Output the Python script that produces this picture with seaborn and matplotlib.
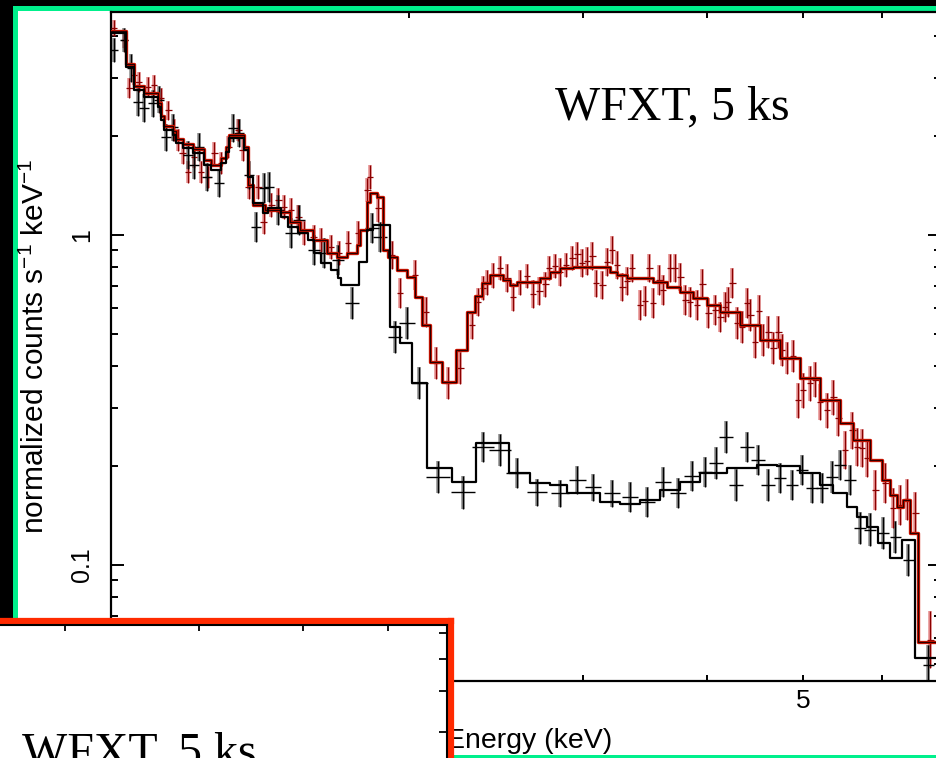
import numpy as np
import pandas as pd
import matplotlib
matplotlib.use("Agg")
import matplotlib.pyplot as plt
import seaborn as sns
from matplotlib.patches import Rectangle
from matplotlib.ticker import FixedLocator, FixedFormatter, NullFormatter

# ---------------- data (energy in keV, normalized counts s^-1 keV^-1) ----------------
# black model (step function: start energy of each step, value)
black_model_E = [1.000, 1.0355, 1.055, 1.080, 1.1155, 1.123, 1.131, 1.155, 1.163, 1.182,
                 1.210, 1.241, 1.262, 1.292, 1.307, 1.316, 1.362, 1.375, 1.391, 1.424,
                 1.441, 1.485, 1.509, 1.545, 1.581, 1.603, 1.630, 1.668, 1.695, 1.707,
                 1.780, 1.814, 1.839, 1.913, 1.958, 2.014, 2.085, 2.210, 2.337, 2.523,
                 2.650, 2.776, 2.888, 3.118, 3.267, 3.422, 3.585, 3.756, 3.934, 4.190,
                 4.492, 4.706, 4.965, 5.201, 5.360, 5.538, 5.668, 5.802, 5.952, 6.120,
                 6.293, 6.487]
black_model_F = [4.09, 3.23, 2.75, 2.62, 2.44, 2.23, 2.08, 2.01, 1.90, 1.835,
                 1.772, 1.63, 1.574, 1.653, 1.784, 1.967, 1.81, 1.499, 1.25, 1.166,
                 1.207, 1.134, 1.057, 1.014, 0.966, 0.882, 0.823, 0.783, 0.741, 0.706,
                 0.828, 1.035, 1.072, 0.526, 0.471, 0.356, 0.197, 0.178, 0.234, 0.190,
                 0.177, 0.175, 0.165, 0.155, 0.153, 0.157, 0.169, 0.178, 0.190, 0.197,
                 0.201, 0.199, 0.190, 0.175, 0.165, 0.150, 0.140, 0.130, 0.1166, 0.105,
                 0.119, 0.0523]

# red model
red_model_E = [1.000, 1.0355, 1.055, 1.080, 1.1155, 1.123, 1.131, 1.155, 1.163, 1.182,
               1.210, 1.241, 1.262, 1.292, 1.307, 1.316, 1.362, 1.375, 1.391, 1.431,
               1.481, 1.516, 1.552, 1.600, 1.653, 1.692, 1.731, 1.772, 1.784, 1.814,
               1.826, 1.856, 1.882, 1.905, 1.945, 1.991, 2.028, 2.061, 2.100, 2.159,
               2.231, 2.288, 2.331, 2.370, 2.414, 2.488, 2.529, 2.571, 2.712, 2.776,
               2.841, 2.928, 3.191, 3.244, 3.320, 3.527, 3.644, 3.756, 3.871, 4.000,
               4.122, 4.318, 4.524, 4.739, 4.965, 5.201, 5.449, 5.616, 5.842, 6.008,
               6.120, 6.221, 6.308, 6.411, 6.532]
red_model_F = [4.15, 3.30, 2.83, 2.69, 2.51, 2.29, 2.14, 2.07, 1.954, 1.887,
               1.822, 1.688, 1.63, 1.711, 1.848, 2.01, 1.848, 1.417, 1.233, 1.19,
               1.174, 1.095, 1.035, 0.966, 0.882, 0.858, 0.882, 0.933, 1.035, 1.259,
               1.341, 1.304, 0.901, 0.858, 0.783, 0.746, 0.649, 0.534, 0.412, 0.358,
               0.448, 0.584, 0.653, 0.715, 0.756, 0.731, 0.706, 0.720, 0.741, 0.773,
               0.794, 0.800, 0.773, 0.756, 0.741, 0.720, 0.696, 0.672, 0.644, 0.614,
               0.584, 0.534, 0.481, 0.424, 0.369, 0.316, 0.269, 0.239, 0.208, 0.181,
               0.163, 0.150, 0.157, 0.125, 0.0584]

# red data points
red_E = [1.007, 1.031, 1.043, 1.055, 1.067, 1.090, 1.105, 1.123, 1.142, 1.158,
         1.169, 1.182, 1.196, 1.213, 1.233, 1.253, 1.271, 1.292, 1.313, 1.344,
         1.359, 1.378, 1.408, 1.427, 1.451, 1.475, 1.495, 1.520, 1.545, 1.566,
         1.603, 1.630, 1.668, 1.699, 1.735, 1.776,
         1.814, 1.826, 1.861, 1.922, 1.958, 2.028, 2.080, 2.129, 2.189, 2.252,
         2.315, 2.348, 2.375, 2.397, 2.431, 2.471, 2.512, 2.547, 2.589, 2.631,
         2.668, 2.706, 2.744, 2.769, 2.808, 2.841, 2.881, 2.922, 2.956, 2.990,
         3.025, 3.061, 3.089, 3.133, 3.169, 3.206, 3.244, 3.282, 3.320, 3.359,
         3.422, 3.462, 3.495, 3.527, 3.577, 3.610, 3.669, 3.712, 3.756, 3.800,
         3.844, 3.907, 3.953, 4.009, 4.075, 4.122, 4.170, 4.199, 4.239, 4.288,
         4.338, 4.389, 4.420, 4.471, 4.513, 4.556, 4.609, 4.663, 4.718, 4.761,
         4.817, 4.884, 4.941, 4.999, 5.081, 5.141, 5.201, 5.286, 5.361, 5.424,
         5.512, 5.603, 5.668, 5.734, 5.802, 5.911, 6.050, 6.163, 6.264, 6.367,
         6.487, 6.718]
red_F = [4.24, 3.90, 2.79, 3.05, 2.91, 2.81, 2.85, 2.60, 2.39, 2.08,
         1.94, 1.772, 1.552, 1.723, 1.552, 1.499, 1.772, 1.653, 1.848, 2.08,
         1.81, 1.398, 1.398, 1.095, 1.233, 1.276, 1.216, 1.19, 1.134, 1.014,
         0.986, 0.966, 0.920, 0.882, 0.946, 1.014,
         1.369, 1.499, 1.207, 0.870, 0.667, 0.756, 0.584, 0.409, 0.356, 0.395,
         0.534, 0.627, 0.691, 0.720, 0.756, 0.794, 0.741, 0.649, 0.720, 0.751,
         0.663, 0.677, 0.710, 0.794, 0.806, 0.773, 0.811, 0.852, 0.876, 0.823,
         0.834, 0.864, 0.715, 0.706, 0.828, 0.901, 0.811, 0.696, 0.726, 0.794,
         0.614, 0.631, 0.794, 0.622, 0.731, 0.681, 0.794, 0.794, 0.746, 0.635,
         0.627, 0.614, 0.710, 0.580, 0.592, 0.564, 0.605, 0.627, 0.715, 0.541,
         0.526, 0.622, 0.572, 0.474, 0.589, 0.481, 0.508, 0.455, 0.508, 0.448,
         0.424, 0.430, 0.316, 0.339, 0.356, 0.364, 0.312, 0.295, 0.323, 0.279,
         0.223, 0.256, 0.228, 0.226, 0.211, 0.169, 0.177, 0.149, 0.152, 0.158,
         0.144, 0.0593]
# relative 1-sigma errors of the red points
red_err = [0.06, 0.06, 0.07, 0.07, 0.07, 0.07, 0.07, 0.07, 0.07, 0.08,
           0.08, 0.08, 0.08, 0.08, 0.08, 0.08, 0.08, 0.08, 0.08, 0.08,
           0.08, 0.09, 0.09, 0.09, 0.09, 0.09, 0.09, 0.09, 0.09, 0.09,
           0.09, 0.09, 0.09, 0.09, 0.09, 0.09,
           0.09, 0.09, 0.10, 0.10, 0.11, 0.11, 0.11, 0.12, 0.12, 0.12,
           0.10, 0.10, 0.09, 0.09, 0.09, 0.09, 0.10, 0.10, 0.09, 0.09,
           0.10, 0.10, 0.09, 0.09, 0.09, 0.10, 0.09, 0.09, 0.09, 0.10,
           0.10, 0.10, 0.10, 0.10, 0.10, 0.10, 0.10, 0.10, 0.10, 0.10,
           0.11, 0.11, 0.10, 0.11, 0.11, 0.11, 0.10, 0.10, 0.10, 0.11,
           0.11, 0.11, 0.11, 0.11, 0.11, 0.11, 0.11, 0.11, 0.11, 0.12,
           0.12, 0.11, 0.12, 0.12, 0.12, 0.12, 0.12, 0.12, 0.12, 0.12,
           0.12, 0.12, 0.13, 0.13, 0.13, 0.13, 0.13, 0.13, 0.13, 0.13,
           0.14, 0.14, 0.14, 0.14, 0.14, 0.15, 0.15, 0.15, 0.15, 0.15,
           0.16, 0.22]

# black data points
black_E = [1.007, 1.031, 1.048, 1.065, 1.080, 1.103, 1.118, 1.136, 1.155, 1.196,
           1.213, 1.227, 1.250, 1.286, 1.328, 1.347, 1.378, 1.401, 1.427, 1.444,
           1.475, 1.520, 1.548, 1.603, 1.641, 1.695, 1.752, 1.835, 1.869, 1.936,
           1.991, 2.047, 2.139, 2.267, 2.375, 2.471, 2.571, 2.693, 2.841, 2.956,
           3.068, 3.206, 3.343, 3.478, 3.610, 3.738, 3.862, 3.980, 4.084, 4.180,
           4.278, 4.389, 4.503, 4.609, 4.739, 4.873, 4.988, 5.105, 5.225, 5.348,
           5.449, 5.577, 5.708, 5.842, 6.022, 6.192, 6.382, 6.686]
black_F = [3.64, 3.90, 3.21, 2.53, 2.43, 2.51, 2.57, 1.98, 2.12, 1.748,
           1.63, 1.848, 1.499, 1.438, 2.11, 2.04, 1.52, 1.057, 1.388, 1.398,
           1.19, 1.014, 1.11, 0.901, 0.882, 0.840, 0.622, 1.050, 0.986, 0.491,
           0.541, 0.356, 0.185, 0.166, 0.228, 0.223, 0.190, 0.166, 0.165, 0.181,
           0.172, 0.165, 0.161, 0.155, 0.178, 0.165, 0.186, 0.191, 0.204, 0.244,
           0.175, 0.228, 0.208, 0.175, 0.1835, 0.175, 0.194, 0.171, 0.171, 0.185,
           0.201, 0.181, 0.1295, 0.128, 0.125, 0.1216, 0.1035, 0.0498]
black_err = [0.09, 0.09, 0.10, 0.10, 0.10, 0.10, 0.10, 0.10, 0.10, 0.10,
             0.10, 0.10, 0.10, 0.10, 0.10, 0.10, 0.10, 0.11, 0.11, 0.11,
             0.11, 0.11, 0.11, 0.11, 0.11, 0.11, 0.12, 0.11, 0.11, 0.12,
             0.12, 0.12, 0.12, 0.12, 0.11, 0.12, 0.11, 0.10, 0.10, 0.10,
             0.10, 0.10, 0.11, 0.11, 0.11, 0.11, 0.11, 0.11, 0.12, 0.12,
             0.12, 0.11, 0.11, 0.12, 0.11, 0.11, 0.11, 0.11, 0.11, 0.12,
             0.11, 0.11, 0.12, 0.12, 0.12, 0.12, 0.12, 0.15]
black_xhw = [0.010, 0.010, 0.010, 0.011, 0.011, 0.011, 0.011, 0.011, 0.011, 0.011,
             0.012, 0.012, 0.012, 0.012, 0.012, 0.012, 0.012, 0.012, 0.012, 0.012,
             0.014, 0.014, 0.014, 0.015, 0.015, 0.015, 0.016, 0.016, 0.016, 0.016,
             0.018, 0.020, 0.028, 0.028, 0.026, 0.026, 0.026, 0.024, 0.022, 0.020,
             0.019, 0.019, 0.019, 0.018, 0.018, 0.018, 0.018, 0.017, 0.017, 0.016,
             0.016, 0.016, 0.016, 0.016, 0.015, 0.015, 0.015, 0.015, 0.014, 0.014,
             0.014, 0.014, 0.014, 0.013, 0.013, 0.013, 0.013, 0.013]
red_xhw = 0.008

x_major = [1, 2, 5]
x_major_labels = ["1", "2", "5"]
x_minor = [3, 4, 6]
y_major = [0.1, 1]
y_major_labels = ["0.1", "1"]
y_minor = [0.05, 0.06, 0.07, 0.08, 0.09, 0.2, 0.3, 0.4, 0.5, 0.6, 0.7, 0.8, 0.9, 2, 3, 4]
inset_y_minor = [3, 4, 5, 6]

title_text = "WFXT, 5 ks"
xlabel_text = "Energy (keV)"
ylabel_text = r"normalized counts s$^{-1}$ keV$^{-1}$"

# ---------------- style ----------------
sns.set_theme(style="white")
plt.rcParams["font.family"] = ["Liberation Sans", "DejaVu Sans"]
plt.rcParams["mathtext.fontset"] = "custom"
plt.rcParams["mathtext.rm"] = "Liberation Sans"
plt.rcParams["mathtext.it"] = "Liberation Sans:italic"
plt.rcParams["mathtext.sf"] = "Liberation Sans"

W, H = 937, 758
fig = plt.figure(figsize=(W / 100, H / 100), dpi=100, facecolor="black")


def fx(px):
    return px / W


def fy(py):
    return 1 - py / H


GREEN = "#00f08c"
REDB = "#ff2a00"

# green-framed slide panel
green = Rectangle((fx(15), fy(757)), fx(1000) - fx(15), fy(7.5) - fy(757),
                  transform=fig.transFigure, facecolor="white", edgecolor=GREEN,
                  lw=3.6, zorder=-5)
fig.add_artist(green)

# ---------------- main axes ----------------
ax = fig.add_axes([fx(111), fy(681), (941 - 111) / W, (681 - 12) / H], zorder=1)
ax.set_facecolor("white")
ax.set_xscale("log")
ax.set_yscale("log")


def yerrs(F, e):
    F = np.asarray(F)
    e = np.asarray(e)
    return np.vstack([F - F / (1 + e), F * e])


def xerrs(E, hw):
    E = np.asarray(E)
    hw = np.asarray(hw) * np.ones_like(E)
    return np.vstack([E - E / (1 + hw), E * hw])


# data crosses
ax.errorbar(red_E, red_F, yerr=yerrs(red_F, red_err), fmt="none",
            ecolor=(0.85, 0.3, 0.3, 0.6), elinewidth=2.6, zorder=2)
ax.errorbar(red_E, red_F, yerr=yerrs(red_F, red_err), xerr=xerrs(red_E, red_xhw),
            fmt="none", ecolor="#8a0000", elinewidth=0.9, zorder=3)
ax.errorbar(black_E, black_F, yerr=yerrs(black_F, black_err), fmt="none",
            ecolor=(0.35, 0.35, 0.35, 0.65), elinewidth=2.6, zorder=2)
ax.errorbar(black_E, black_F, yerr=yerrs(black_F, black_err), xerr=xerrs(black_E, black_xhw),
            fmt="none", ecolor="black", elinewidth=1.0, zorder=3)

# model step curves
XEND = 6.89
red_df = pd.DataFrame({"E": red_model_E + [XEND], "F": red_model_F + [red_model_F[-1]]})
black_df = pd.DataFrame({"E": black_model_E + [XEND], "F": black_model_F + [black_model_F[-1]]})
sns.lineplot(data=red_df, x="E", y="F", ax=ax, drawstyle="steps-post", color="#d01400",
             lw=2.4, estimator=None, sort=False, legend=False, zorder=4)
sns.lineplot(data=red_df, x="E", y="F", ax=ax, drawstyle="steps-post", color="#2a0000",
             lw=0.9, estimator=None, sort=False, legend=False, zorder=5)
sns.lineplot(data=black_df, x="E", y="F", ax=ax, drawstyle="steps-post", color="black",
             lw=1.6, estimator=None, sort=False, legend=False, zorder=5)

ax.set_xlim(1, XEND)
ax.set_ylim(0.04452, 4.744)
ax.set_xlabel("")
ax.set_ylabel("")

ax.xaxis.set_major_locator(FixedLocator(x_major))
ax.xaxis.set_major_formatter(FixedFormatter(x_major_labels))
ax.xaxis.set_minor_locator(FixedLocator(x_minor))
ax.xaxis.set_minor_formatter(NullFormatter())
ax.yaxis.set_major_locator(FixedLocator(y_major))
ax.yaxis.set_major_formatter(FixedFormatter(y_major_labels))
ax.yaxis.set_minor_locator(FixedLocator(y_minor))
ax.yaxis.set_minor_formatter(NullFormatter())

ax.tick_params(axis="x", which="both", direction="in", bottom=True, top=True,
               length=4.3, width=1.4, color="black", labelsize=19, pad=6,
               labelcolor="black")
ax.tick_params(axis="y", which="major", direction="in", left=True, right=True,
               length=9.4, width=1.4, color="black", labelsize=18, pad=12,
               labelrotation=90, labelcolor="black")
ax.tick_params(axis="y", which="minor", direction="in", left=True, right=True,
               length=5, width=1.4, color="black")
for lab in ax.get_yticklabels():
    lab.set_va("center")
for s in ax.spines.values():
    s.set_color("black")
    s.set_linewidth(1.6)
    s.set_visible(True)

ax.text(fx(555), fy(119), title_text, transform=fig.transFigure, ha="left",
        va="baseline", fontsize=34.5, family=["Liberation Serif", "DejaVu Serif"],
        color="black")
ax.text(fx(529), fy(748), xlabel_text, transform=fig.transFigure, ha="center",
        va="baseline", fontsize=20.5, color="black")
ax.text(fx(44), fy(346), ylabel_text, transform=fig.transFigure, ha="center",
        va="baseline", rotation=90, rotation_mode="anchor", fontsize=21.5, color="black")

# ---------------- red-framed overlapping panel ----------------
axR = fig.add_axes([fx(-20), fy(800), fx(451.5) - fx(-20), fy(620.5) - fy(800)], zorder=2)
axR.set_facecolor("white")
axR.set_xticks([])
axR.set_yticks([])
for s in axR.spines.values():
    s.set_color(REDB)
    s.set_linewidth(4.5)
    s.set_visible(True)

ax2 = fig.add_axes([fx(-447), fy(1000), fx(447) - fx(-447), fy(625) - fy(1000)], zorder=3)
ax2.set_facecolor("none")
ax2.set_xscale("log")
ax2.set_yscale("log")
ax2.set_xlim(1, 6.811)
ax2.set_ylim(0.4638, 6.34)
ax2.xaxis.set_major_locator(FixedLocator(x_major))
ax2.xaxis.set_major_formatter(NullFormatter())
ax2.xaxis.set_minor_locator(FixedLocator(x_minor))
ax2.xaxis.set_minor_formatter(NullFormatter())
ax2.yaxis.set_major_locator(FixedLocator([1]))
ax2.yaxis.set_major_formatter(NullFormatter())
ax2.yaxis.set_minor_locator(FixedLocator(inset_y_minor))
ax2.yaxis.set_minor_formatter(NullFormatter())
ax2.tick_params(axis="x", which="both", direction="in", top=True, bottom=True,
                length=4.3, width=1.3, color="black")
ax2.tick_params(axis="y", which="both", direction="in", left=True, right=True,
                length=5.8, width=1.3, color="black")
for s in ax2.spines.values():
    s.set_color("black")
    s.set_linewidth(1.5)
    s.set_visible(True)
ax2.text(fx(22), fy(765), title_text, transform=fig.transFigure, ha="left",
         va="baseline", fontsize=34.5, family=["Liberation Serif", "DejaVu Serif"],
         color="black")

fig.savefig("out.png", dpi=100, facecolor="black")
